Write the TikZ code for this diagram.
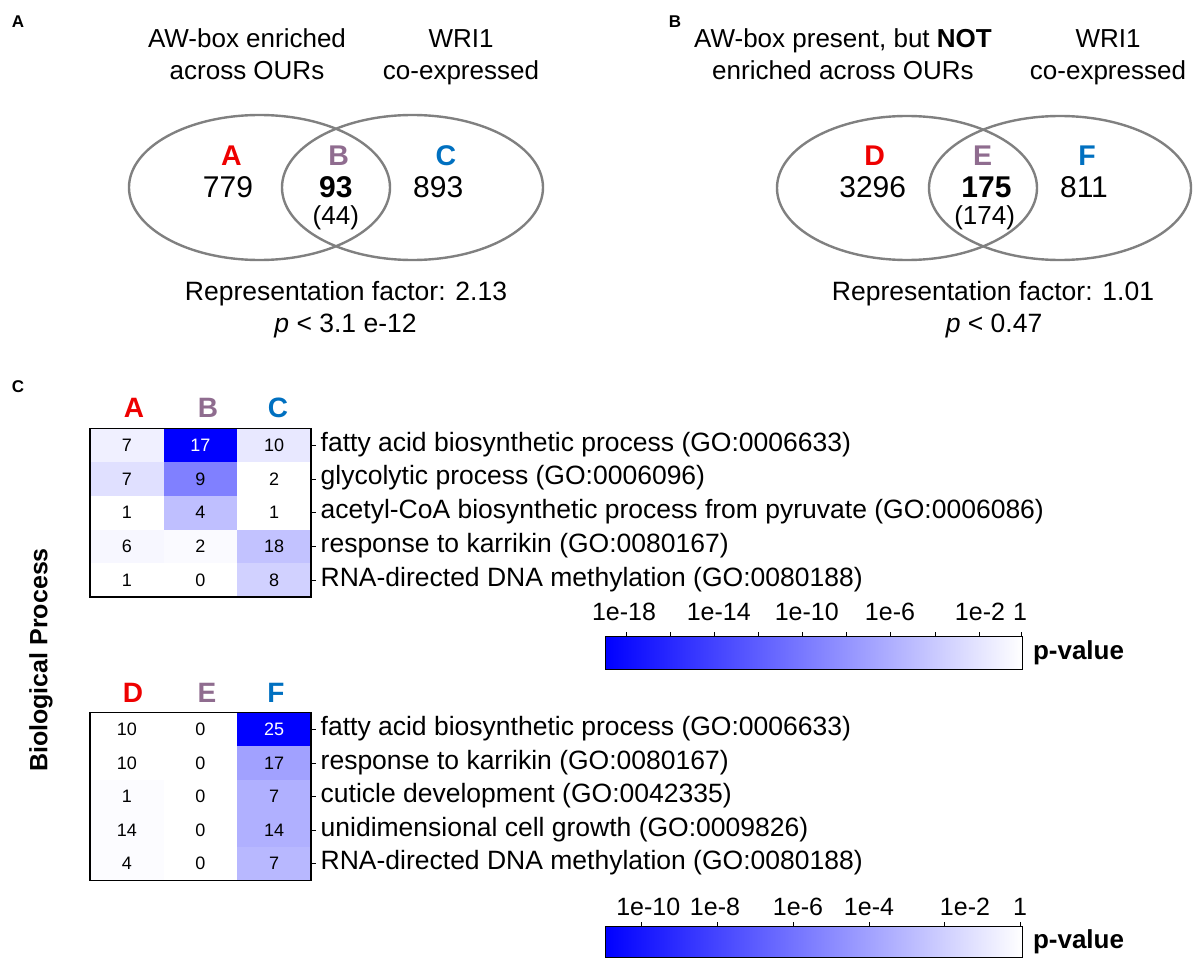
\documentclass[tikz,border=0pt]{standalone}
\usepackage{fontspec}
\setmainfont{Liberation Sans}
\definecolor{cred}{RGB}{238,0,0}
\definecolor{cpur}{RGB}{143,108,143}
\definecolor{cblu}{RGB}{0,112,192}
\definecolor{vgray}{RGB}{128,128,128}
\begin{document}
\begin{tikzpicture}[x=1pt,y=-1pt, every node/.style={inner sep=0pt, outer sep=0pt}]
\tikzset{
  titletext/.style={font=\fontsize{26}{30}\selectfont, anchor=base},
  panellab/.style={font=\fontsize{17}{20}\selectfont\bfseries, anchor=base},
  setlet/.style={font=\fontsize{28.5}{32}\selectfont\bfseries, anchor=base},
  bignum/.style={font=\fontsize{30}{34}\selectfont, anchor=base},
  bignumb/.style={font=\fontsize{30}{34}\selectfont\bfseries, anchor=base},
  subnum/.style={font=\fontsize{26}{30}\selectfont, anchor=base},
  reptext/.style={font=\fontsize{26.5}{30}\selectfont, anchor=base},
  venn/.style={draw=vgray, line width=2.4pt},
  hdr/.style={font=\fontsize{28}{32}\selectfont\bfseries, anchor=base},
  cellnum/.style={font=\fontsize{18}{21}\selectfont},
  golab/.style={font=\fontsize{26.5}{30}\selectfont, anchor=base west},
  ticklab/.style={font=\fontsize{25}{29}\selectfont, anchor=base},
  pval/.style={font=\fontsize{26}{30}\selectfont\bfseries, anchor=west},
}
\useasboundingbox (0,0) rectangle (1200,963);

% ---------- Panel A ----------
\node[panellab] (labA) at (18,28) {A};
\node[titletext] (tA1) at (247,48) {AW-box enriched};
\node[titletext] (tA2) at (247,80) {across OURs};
\node[titletext] (tA3) at (461,48) {WRI1};
\node[titletext] (tA4) at (461,80) {co-expressed};
\draw[venn] (259.5,187.5) ellipse [x radius=130.5, y radius=72.5];
\draw[venn] (412.5,187.5) ellipse [x radius=130.5, y radius=72.5];
\node[setlet, text=cred] (sA) at (231.5,166) {A};
\node[bignum] (nA) at (228,197) {779};
\node[setlet, text=cpur] (sB) at (338.7,166) {B};
\node[bignumb] (nB) at (335.8,197) {93};
\node[subnum] (nB2) at (335.8,224) {(44)};
\node[setlet, text=cblu] (sC) at (445.8,166) {C};
\node[bignum] (nC) at (438.2,197) {893};
\node[reptext] (rA1) at (346,300) {Representation factor: 2.13};
\node[reptext] (rA2) at (345.5,332.7) {\textit{p} < 3.1 e-12};

% ---------- Panel B ----------
\node[panellab] (labB) at (675,28) {B};
\node[titletext] (tB1) at (843,48) {AW-box present, but \textbf{NOT}};
\node[titletext] (tB2) at (843,80) {enriched across OURs};
\node[titletext] (tB3) at (1108,48) {WRI1};
\node[titletext] (tB4) at (1108,80) {co-expressed};
\draw[venn] (907,188) ellipse [x radius=130, y radius=72];
\draw[venn] (1060,188) ellipse [x radius=131, y radius=72];
\node[setlet, text=cred] (sD) at (874.6,166) {D};
\node[bignum] (nD) at (872.7,197) {3296};
\node[setlet, text=cpur] (sE) at (982.7,166) {E};
\node[bignumb] (nE) at (986.5,197) {175};
\node[subnum] (nE2) at (984.6,224) {(174)};
\node[setlet, text=cblu] (sF) at (1087,166) {F};
\node[bignum] (nF) at (1084,197) {811};
\node[reptext] (rB1) at (993,300) {Representation factor: 1.01};
\node[reptext] (rB2) at (994,332) {\textit{p} < 0.47};

% ---------- Panel C ----------
\node[panellab] (labC) at (18,392) {C};
\node[font=\fontsize{25}{29}\selectfont\bfseries, rotate=90] (bio) at (41,660) {Biological Process};

% heatmap 1
\node[hdr, text=cred] (hA) at (134,417) {A};
\node[hdr, text=cpur] (hB) at (208,417) {B};
\node[hdr, text=cblu] (hC) at (278,417) {C};
\foreach \r/\va/\pa/\vb/\pb/\vc/\pc/\lab in {
  0/7/6/17/100/10/9/{fatty acid biosynthetic process (GO:0006633)},
  1/7/12/9/50/2/0/{glycolytic process (GO:0006096)},
  2/1/0/4/25/1/0/{acetyl-CoA biosynthetic process from pyruvate (GO:0006086)},
  3/6/3/2/2/18/24/{response to karrikin (GO:0080167)},
  4/1/0/0/0/8/18/{RNA-directed DNA methylation (GO:0080188)}}{
  \pgfmathsetmacro{\yt}{428.3+\r*33.74}
  \pgfmathsetmacro{\yc}{\yt+16.87}
  \fill[blue!\pa!white] (90,\yt) rectangle (163.7,\yt+33.74);
  \fill[blue!\pb!white] (163.7,\yt) rectangle (237.3,\yt+33.74);
  \fill[blue!\pc!white] (237.3,\yt) rectangle (311,\yt+33.74);
  \ifnum\pb=100 \def\tcol{white}\else\def\tcol{black}\fi
  \node[cellnum] (ha\r) at (126.85,\yc) {\va};
  \node[cellnum, text=\tcol] (hb\r) at (200.5,\yc) {\vb};
  \node[cellnum] (hc\r) at (274.15,\yc) {\vc};
  \draw[line width=0.8pt] (311,\yc) -- (316,\yc);
  \node[golab] (gA\r) at (320.7,\yc+6) {\lab};
}
\draw[line width=1.3pt] (90,428.3) rectangle (311,597);

% colorbar 1
\shade[left color=blue, right color=white] (605,636) rectangle (1022,669);
\draw[line width=1pt] (605,636) rectangle (1022,669);
\foreach \x in {626,670.7,714.3,758.3,802.3,846.7,890,935,979,1021.7}{
  \draw[line width=0.8pt] (\x,636) -- (\x,632);
}
\node[ticklab] (c1a) at (624,620.7) {1e-18};
\node[ticklab] (c1b) at (718.8,620.7) {1e-14};
\node[ticklab] (c1c) at (806.8,620.7) {1e-10};
\node[ticklab] (c1d) at (890,620.7) {1e-6};
\node[ticklab] (c1e) at (980,620.7) {1e-2};
\node[ticklab] (c1f) at (1020,620.7) {1};
\node[pval] (pv1) at (1033,652.5) {p-value};

% heatmap 2
\node[hdr, text=cred] (hD) at (133,702) {D};
\node[hdr, text=cpur] (hE) at (207,702) {E};
\node[hdr, text=cblu] (hF) at (276,702) {F};
\foreach \r/\va/\pa/\vb/\pb/\vc/\pc/\lab in {
  0/10/0/0/0/25/100/{fatty acid biosynthetic process (GO:0006633)},
  1/10/0/0/0/17/37/{response to karrikin (GO:0080167)},
  2/1/1/0/0/7/31/{cuticle development (GO:0042335)},
  3/14/1/0/0/14/31/{unidimensional cell growth (GO:0009826)},
  4/4/1/0/0/7/28/{RNA-directed DNA methylation (GO:0080188)}}{
  \pgfmathsetmacro{\yt}{712.7+\r*33.56}
  \pgfmathsetmacro{\yc}{\yt+16.78}
  \fill[blue!\pa!white] (90,\yt) rectangle (163.7,\yt+33.56);
  \fill[blue!\pb!white] (163.7,\yt) rectangle (237.3,\yt+33.56);
  \fill[blue!\pc!white] (237.3,\yt) rectangle (311,\yt+33.56);
  \ifnum\pc=100 \def\tcol{white}\else\def\tcol{black}\fi
  \node[cellnum] (hd\r) at (126.85,\yc) {\va};
  \node[cellnum] (he\r) at (200.5,\yc) {\vb};
  \node[cellnum, text=\tcol] (hf\r) at (274.15,\yc) {\vc};
  \draw[line width=0.8pt] (311,\yc) -- (316,\yc);
  \node[golab] (gB\r) at (320.7,\yc+6) {\lab};
}
\draw[line width=1.3pt] (90,712.7) rectangle (311,880.5);

% colorbar 2
\shade[left color=blue, right color=white] (605,926) rectangle (1022,957);
\draw[line width=1pt] (605,926) rectangle (1022,957);
\foreach \x in {641.7,717.4,793.2,869,944.6,1020.4}{
  \draw[line width=0.8pt] (\x,926) -- (\x,922);
}
\node[ticklab] (c2a) at (648.3,915) {1e-10};
\node[ticklab] (c2b) at (715,915) {1e-8};
\node[ticklab] (c2c) at (798,915) {1e-6};
\node[ticklab] (c2d) at (869,915) {1e-4};
\node[ticklab] (c2e) at (965,915) {1e-2};
\node[ticklab] (c2f) at (1020,915) {1};
\node[pval] (pv2) at (1033,941.5) {p-value};
\end{tikzpicture}
\end{document}
